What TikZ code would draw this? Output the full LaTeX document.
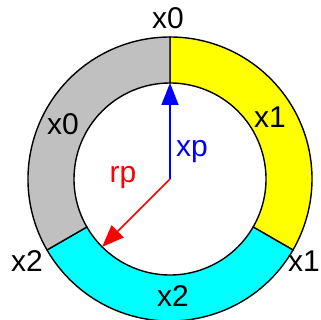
\documentclass[tikz,border=0pt]{standalone}
\usepackage{fontspec}
\setmainfont{Liberation Sans}
\usetikzlibrary{arrows.meta}
\definecolor{ringgray}{RGB}{192,192,192}
\definecolor{ringyellow}{RGB}{255,255,0}
\definecolor{ringcyan}{RGB}{0,255,255}
\definecolor{vblue}{RGB}{0,0,255}
\definecolor{vred}{RGB}{255,0,0}
\begin{document}
\begin{tikzpicture}[x=1pt,y=1pt,
  lab/.style={font=\fontsize{30}{30}\selectfont, inner sep=0pt, anchor=base},
  ringline/.style={draw=black, line width=1.4pt},
  vec/.style={line width=1.5pt, -{Triangle[length=22pt,width=17pt]}}]
\useasboundingbox (0,0) rectangle (321,320);
\def\R{142}\def\r{96}
\coordinate (c) at (170,141);
\begin{scope}[shift={(c)}]
  \filldraw[fill=ringyellow, ringline] (90:\R) arc (90:-30:\R) -- (-30:\r) arc (-30:90:\r) -- cycle;
  \filldraw[fill=ringcyan, ringline] (-30:\R) arc (-30:-150:\R) -- (-150:\r) arc (-150:-30:\r) -- cycle;
  \filldraw[fill=ringgray, ringline] (210:\R) arc (210:90:\R) -- (90:\r) arc (90:210:\r) -- cycle;
  \coordinate (ptop) at (90:\r);
  \coordinate (pdl) at (225:\r);
\end{scope}
\draw[vec, vblue] (c) -- (ptop);
\draw[vec, vred] (c) -- (pdl);
\node[lab] (t0) at (168,291) {x0};
\node[lab] (g0) at (63,185) {x0};
\node[lab] (y1) at (270,192) {x1};
\node[lab] (c2) at (173,13) {x2};
\node[lab] (l2) at (27,48) {x2};
\node[lab, anchor=base east] (r1) at (320,48) {x1};
\node[lab, vblue] (xp) at (192,163) {xp};
\node[lab, vred] (rp) at (123,137) {rp};
\end{tikzpicture}
\end{document}
